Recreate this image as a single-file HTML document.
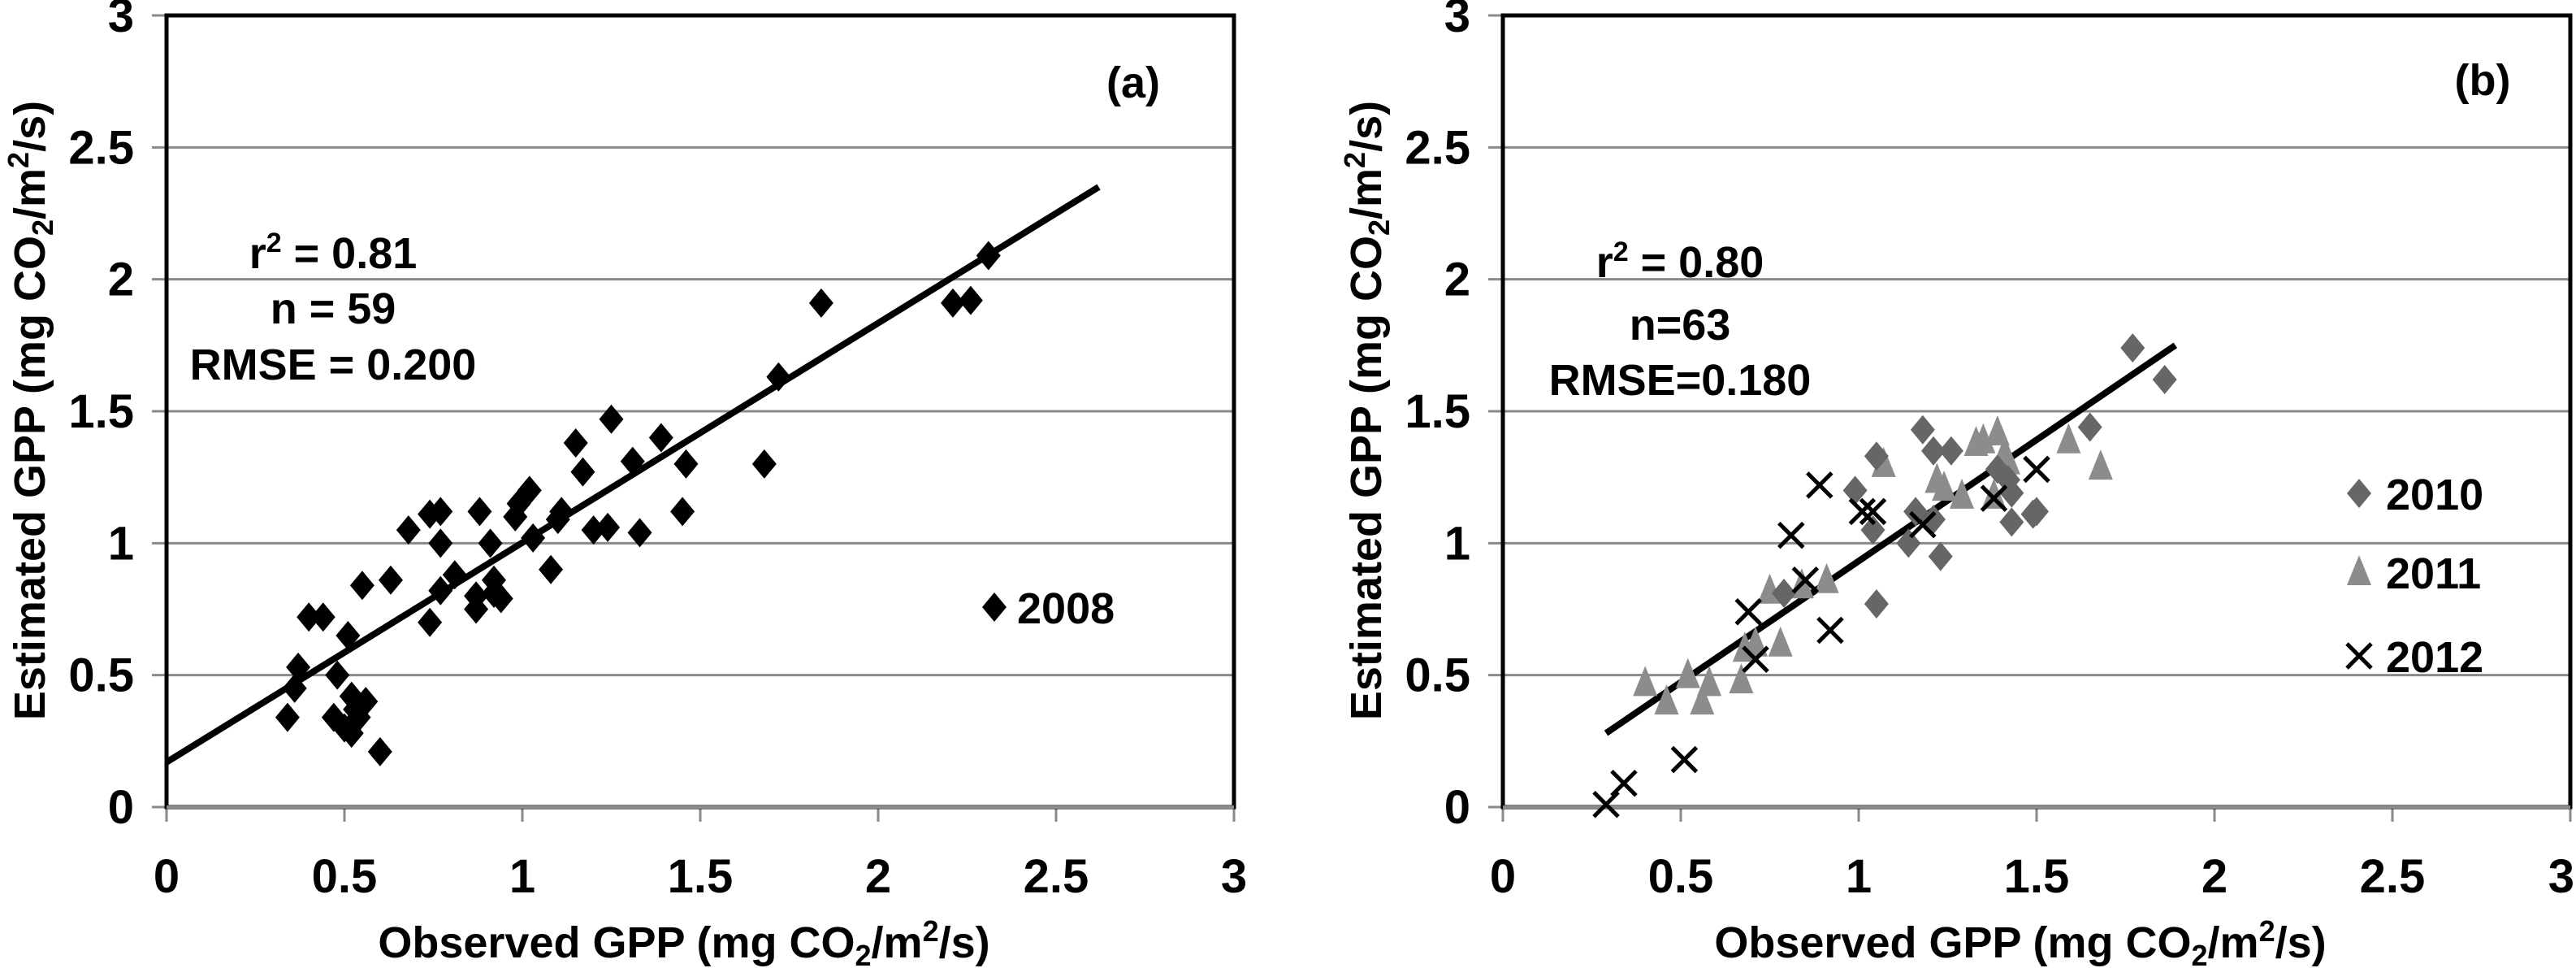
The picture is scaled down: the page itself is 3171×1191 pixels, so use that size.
<!DOCTYPE html>
<html><head><meta charset="utf-8"><style>
html,body{margin:0;padding:0;background:#fff}
svg{display:block}
text{font-family:"Liberation Sans",sans-serif;font-weight:bold;fill:#000}
</style></head><body>
<svg id="chart" width="3171" height="1191" viewBox="0 0 3171 1191" xmlns="http://www.w3.org/2000/svg"></svg>
<script>
// ---- data ----
const ticks = [0, 0.5, 1, 1.5, 2, 2.5, 3];
const tickLabels = ["0", "0.5", "1", "1.5", "2", "2.5", "3"];
const a2008x = [2.31,2.21,2.26,1.84,1.72,1.68,1.25,1.39,1.15,1.31,1.46,1.17,1.45,1.02,0.99,0.98,1.11,1.10,0.88,0.77,0.74,0.68,0.77,0.91,1.03,1.20,1.24,1.33,1.08,0.81,0.92,0.77,0.92,0.87,0.87,0.94,0.63,0.55,0.74,0.40,0.44,0.51,0.37,0.48,0.36,0.34,0.47,0.52,0.56,0.53,0.54,0.52,0.60,0.50];
const a2008y = [2.09,1.91,1.92,1.91,1.63,1.30,1.47,1.40,1.38,1.31,1.30,1.27,1.12,1.20,1.15,1.10,1.12,1.09,1.12,1.12,1.11,1.05,1.00,1.00,1.02,1.05,1.06,1.04,0.90,0.88,0.86,0.82,0.81,0.80,0.75,0.79,0.86,0.84,0.70,0.72,0.72,0.65,0.53,0.50,0.45,0.34,0.34,0.42,0.40,0.37,0.34,0.28,0.21,0.30];
const aFitX = [0, 2.62];
const aFitY = [0.17, 2.35];
const b2010x = [1.77,1.86,1.65,1.18,1.05,1.21,1.26,0.99,1.16,1.21,1.04,1.14,1.23,1.05,1.43,1.42,1.43,1.49,1.50,1.39,0.79];
const b2010y = [1.74,1.62,1.44,1.43,1.33,1.35,1.35,1.20,1.12,1.09,1.05,1.00,0.95,0.77,1.19,1.24,1.08,1.11,1.12,1.28,0.81];
const b2011x = [1.33,1.35,1.39,1.41,1.42,1.59,1.68,1.07,1.22,1.24,1.29,1.38,0.75,0.91,0.84,0.68,0.71,0.78,0.40,0.52,0.58,0.46,0.56,0.67];
const b2011y = [1.38,1.39,1.42,1.34,1.31,1.39,1.29,1.30,1.24,1.21,1.18,1.18,0.82,0.86,0.84,0.60,0.62,0.62,0.47,0.50,0.47,0.40,0.40,0.48];
const b2012x = [0.29,0.34,0.51,0.69,0.71,0.92,0.81,0.85,0.89,1.01,1.04,1.18,1.38,1.50];
const b2012y = [0.01,0.09,0.18,0.74,0.56,0.67,1.03,0.86,1.22,1.12,1.12,1.07,1.17,1.28];
const bFitX = [0.29, 1.89];
const bFitY = [0.28, 1.75];

const NS = "http://www.w3.org/2000/svg";
const svg = document.getElementById("chart");
function mk(tag, attrs, parent) {
  const e = document.createElementNS(NS, tag);
  for (const k in attrs) e.setAttribute(k, attrs[k]);
  (parent || svg).appendChild(e);
  return e;
}
const TOP = 19, BOT = 993;
function yS(v) { return BOT - v * (BOT - TOP) / 3; }

function panel(left, right, id) {
  const g = mk("g", {});
  
  
  const xS = v => left + v * (right - left) / 3;
  ticks.forEach((t, i) => {
    if (t > 0 && t < 3) {
      const l = mk("line", {x1: left, x2: right, y1: yS(t), y2: yS(t), stroke: "#8a8a8a", "stroke-width": 3}, g);
      
      
    }
    const yt = mk("line", {x1: left - 18, x2: left, y1: yS(t), y2: yS(t), stroke: "#8a8a8a", "stroke-width": 3}, g);
    
    
    const xt = mk("line", {x1: xS(t), x2: xS(t), y1: BOT, y2: BOT + 18, stroke: "#8a8a8a", "stroke-width": 3}, g);
    
    
    const yl = mk("text", {x: left - 40, y: yS(t) + 20, "text-anchor": "end", "font-size": 58}, g);
    yl.textContent = tickLabels[i];
    
    
    let xpos = xS(t), anchor = "middle";
    if (xpos + 20 > 3171) { xpos = 3169; anchor = "end"; }
    const xl = mk("text", {x: xpos, y: 1098, "text-anchor": anchor, "font-size": 58}, g);
    xl.textContent = tickLabels[i];
    
    
  });
  const fr = mk("rect", {x: left, y: TOP, width: right - left, height: BOT - TOP, fill: "none", stroke: "#000", "stroke-width": 5}, g);
  
  
  const bl = mk("line", {x1: left, x2: right, y1: BOT, y2: BOT, stroke: "#8a8a8a", "stroke-width": 4}, g);
  
  
  const xt = mk("text", {x: (left + right) / 2 - 20, y: 1178, "text-anchor": "middle", "font-size": 54}, g);
  xt.innerHTML = 'Observed GPP (mg CO<tspan font-size="36" dy="10">2</tspan><tspan dy="-10">/m</tspan><tspan font-size="36" dy="-20">2</tspan><tspan dy="20">/s)</tspan>';
  
  
  const tx = left - 150;
  const yt = mk("text", {x: 0, y: 0, "text-anchor": "middle", "font-size": 54, transform: `translate(${tx},505) rotate(-90)`}, g);
  yt.innerHTML = 'Estimated GPP (mg CO<tspan font-size="36" dy="10">2</tspan><tspan dy="-10">/m</tspan><tspan font-size="36" dy="-20">2</tspan><tspan dy="20">/s)</tspan>';
  
  
  return {g, xS};
}

function diamond(g, cx, cy, fill, name) {
  const p = mk("polygon", {points: `${cx},${cy-18} ${cx+15},${cy} ${cx},${cy+18} ${cx-15},${cy}`, fill: fill}, g);
  
  
}
function tri(g, cx, cy, fill, name) {
  const p = mk("polygon", {points: `${cx},${cy-21} ${cx+15},${cy+16} ${cx-15},${cy+16}`, fill: fill}, g);
  
  
}
function cross(g, cx, cy, name) {
  const p = mk("path", {d: `M${cx-15},${cy-15}L${cx+15},${cy+15}M${cx+15},${cy-15}L${cx-15},${cy+15}`, stroke: "#000", "stroke-width": 5, fill: "none"}, g);
  
  
}
function label(g, x, y, html, name, anchor, size) {
  const t = mk("text", {x: x, y: y, "text-anchor": anchor || "middle", "font-size": size || 54}, g);
  t.innerHTML = html;
  
  
}

// Panel a
const A = panel(205, 1519, "a");
const fa = mk("line", {x1: A.xS(aFitX[0]), y1: yS(aFitY[0]), x2: A.xS(aFitX[1]), y2: yS(aFitY[1]), stroke: "#000", "stroke-width": 8}, A.g);


a2008x.forEach((x, i) => diamond(A.g, A.xS(x), yS(a2008y[i]), "#000", "point-2008"));
label(A.g, 410, 330, 'r<tspan font-size="34" dy="-20">2</tspan><tspan dy="20"> = 0.81</tspan>', "r2-annotation-a");
label(A.g, 410, 398, 'n = 59', "n-annotation-a");
label(A.g, 410, 467, 'RMSE = 0.200', "rmse-annotation-a");
label(A.g, 1395, 120, '(a)', "panel-label-a");
diamond(A.g, 1224, 747, "#000", "legend-marker-2008");
label(A.g, 1252, 767, '2008', "legend-label-2008", "start");

// Panel b
const B = panel(1850, 3164, "b");
const fb = mk("line", {x1: B.xS(bFitX[0]), y1: yS(bFitY[0]), x2: B.xS(bFitX[1]), y2: yS(bFitY[1]), stroke: "#000", "stroke-width": 8}, B.g);


b2011x.forEach((x, i) => tri(B.g, B.xS(x), yS(b2011y[i]), "#8c8c8c", "point-2011"));
b2010x.forEach((x, i) => diamond(B.g, B.xS(x), yS(b2010y[i]), "#666", "point-2010"));
b2012x.forEach((x, i) => cross(B.g, B.xS(x), yS(b2012y[i]), "point-2012"));
label(B.g, 2068, 341, 'r<tspan font-size="34" dy="-20">2</tspan><tspan dy="20"> = 0.80</tspan>', "r2-annotation-b");
label(B.g, 2068, 418, 'n=63', "n-annotation-b");
label(B.g, 2068, 486, 'RMSE=0.180', "rmse-annotation-b");
label(B.g, 3056, 117, '(b)', "panel-label-b");
diamond(B.g, 2904, 607, "#666", "legend-marker-2010");
label(B.g, 2937, 627, '2010', "legend-label-2010", "start");
tri(B.g, 2904, 704, "#8c8c8c", "legend-marker-2011");
label(B.g, 2937, 724, '2011', "legend-label-2011", "start");
cross(B.g, 2904, 807, "legend-marker-2012");
label(B.g, 2937, 827, '2012', "legend-label-2012", "start");
</script>
</body></html>
